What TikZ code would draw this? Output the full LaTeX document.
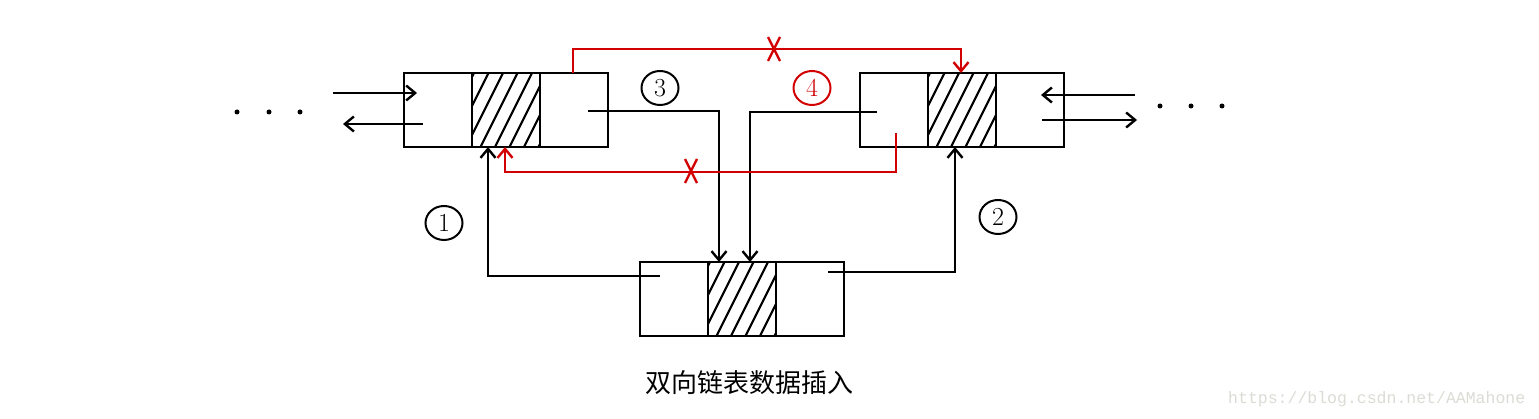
\documentclass[tikz,border=0pt]{standalone}
\usepackage{fontspec}
\newfontfamily\cjk{Noto Sans CJK SC}
\newfontfamily\wmfont{Liberation Mono}
\usetikzlibrary{arrows.meta,shapes.geometric}
\definecolor{redline}{RGB}{210,0,0}
\definecolor{wmgray}{RGB}{220,220,214}
\begin{document}
\begin{tikzpicture}[x=1pt,y=-1pt,
  cell/.style={draw, line width=2.5pt, minimum width=68pt, minimum height=74pt, inner sep=0pt, anchor=north west, outer sep=0pt},
  hcell/.style={cell, path picture={\foreach \i in {-4,...,6}{\draw[line width=2.2pt] ([xshift=\i*14.5pt-6pt]path picture bounding box.south west) -- ++(40pt,80pt);}}},
  conn/.style={line width=2.4pt},
  tipd/.tip={Straight Barb[length=9pt,width=15pt]},
  arr/.style={conn,-tipd},
  redc/.style={conn, draw=redline},
  circ/.style={draw, ellipse, line width=2pt, minimum width=37pt, minimum height=34pt, inner sep=0pt, font=\fontsize{26}{26}\selectfont},
]
\fill[white] (0,0) rectangle (1539,419);
\useasboundingbox (0,0) rectangle (1539,419);

% left node
\node[cell] (La) at (404,73) {};
\node[hcell] (Lb) at (La.north east) {};
\node[cell] (Lc) at (Lb.north east) {};
% right node
\node[cell] (Ra) at (860,73) {};
\node[hcell] (Rb) at (Ra.north east) {};
\node[cell] (Rc) at (Rb.north east) {};
% bottom node
\node[cell] (Ba) at (640,262) {};
\node[hcell] (Bb) at (Ba.north east) {};
\node[cell] (Bc) at (Bb.north east) {};

% dots
\fill (237,112) circle (2.5pt);
\fill (269,112) circle (2.5pt);
\fill (300,112) circle (2.5pt);
\fill (1160,106) circle (2.5pt);
\fill (1191,106) circle (2.5pt);
\fill (1222,106) circle (2.5pt);

% side arrows
\coordinate (l1s) at (333,93);
\coordinate (l1e) at (417,93);
\coordinate (l2s) at (423,124);
\coordinate (l2e) at (343,124);
\coordinate (r1s) at (1135,95);
\coordinate (r1e) at (1041,95);
\coordinate (r2s) at (1042,120);
\coordinate (r2e) at (1137,120);
\draw[arr] (l1s) -- (l1e);
\draw[arr] (l2s) -- (l2e);
\draw[arr] (r1s) -- (r1e);
\draw[arr] (r2s) -- (r2e);

% step 3
\coordinate (s3) at (588,111);
\draw[arr] (s3) -- (719,111) -- ([xshift=11pt]Bb.north west);
% step 4
\coordinate (s4) at (877,112);
\draw[arr] (s4) -- (750,112) -- ([xshift=42pt]Bb.north west);
% step 1
\coordinate (s1) at (660,276);
\draw[arr] (s1) -| ([xshift=16pt]Lb.south west);
% step 2
\coordinate (s2) at (828,272);
\draw[arr] (s2) -| ([xshift=27pt]Rb.south west);

% red old links
\draw[redc,-tipd] ([xshift=33pt]Lc.north west) -- ++(0,-24) -| ([xshift=33pt]Rb.north west);
\coordinate (rb) at (896,133);
\draw[redc,-tipd] (rb) -- ++(0,39) -| ([xshift=33pt]Lb.south west);

% cross marks
\draw[redc] (768,37) -- (780,61);
\draw[redc] (780,37) -- (768,61);
\draw[redc] (685,159) -- (697,183);
\draw[redc] (697,159) -- (685,183);

% circled labels
\node[circ] (c3) at (660,88) {3};
\node[circ, draw=redline, text=redline] (c4) at (812,88) {4};
\node[circ] (c1) at (444,223) {1};
\node[circ] (c2) at (998,217) {2};

% caption
\node[font=\cjk\fontsize{26}{26}\selectfont] (title) at (749,383) {双向链表数据插入};
\node[font=\wmfont\fontsize{16.5}{16.5}\selectfont, text=wmgray, anchor=west, inner sep=0pt] (wm) at (1228,399) {https://blog.csdn.net/AAMahone};
\end{tikzpicture}
\end{document}
